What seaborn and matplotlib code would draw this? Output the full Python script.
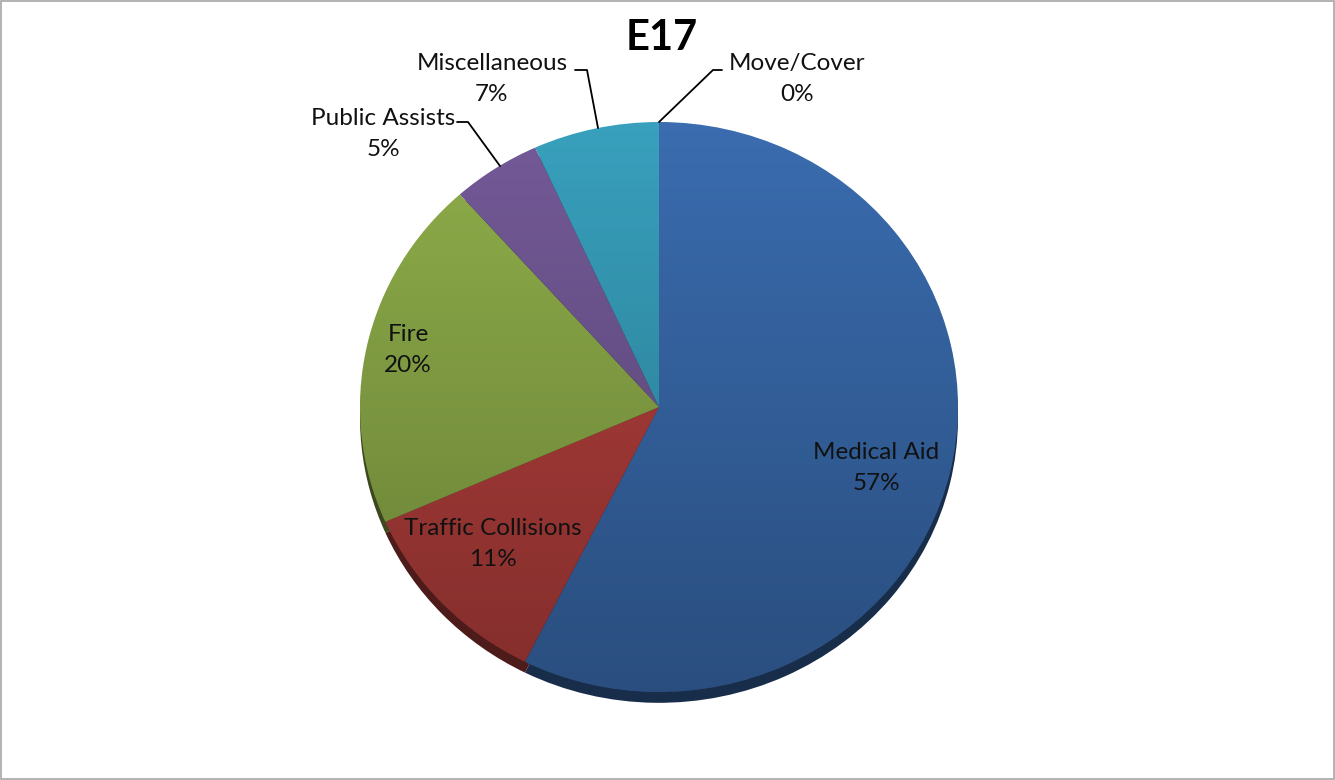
import numpy as np
import matplotlib
matplotlib.use("Agg")
import matplotlib.pyplot as plt
import matplotlib.patches as mpatches
import seaborn as sns

# data (percent of calls)
categories = ["Medical Aid", "Traffic Collisions", "Fire", "Public Assists",
              "Miscellaneous", "Move/Cover"]
shares = [57.4, 11.0, 20.0, 4.8, 6.8, 0.0]
title = "E17"

colors = ["#3a6caf", "#b5403d", "#8fae4a", "#745a98", "#38a0bd", "#e8883a"]

sns.set_theme(style="white")
plt.rcParams['font.family'] = ['Lato', 'DejaVu Sans']

W, H = 1335, 780
CX, CY, RX, RY = 659, 407, 299, 285


def px(x, y):
    """pixel position -> data coords (pie of radius 1 at origin)"""
    return (x - CX) / RX, (CY - y) / RY


fig = plt.figure(figsize=(W / 100, H / 100), dpi=100)
ax = fig.add_axes([0, 0, 1, 1])

# dark bottom edge / shadow
shadow_cols = [tuple(c * 0.42 for c in matplotlib.colors.to_rgb(col)) for col in colors]
ax.pie(shares, colors=shadow_cols, startangle=90, counterclock=False,
       center=(0, -0.038), wedgeprops=dict(linewidth=0))
wedges, _ = ax.pie(shares, colors=colors, startangle=90, counterclock=False,
                   wedgeprops=dict(linewidth=0))

# vertical shading like the Excel gradient fill
grad = np.linspace(0, 1, 256).reshape(-1, 1)
cmap = matplotlib.colors.LinearSegmentedColormap.from_list(
    "shade", [(0, 0, 0, 0.0), (0, 0, 0, 0.28)])
im = ax.imshow(grad, cmap=cmap, extent=(-1, 1, -1, 1), origin="upper",
               aspect="auto", zorder=3)
clip = mpatches.Circle((0, 0), 1, transform=ax.transData)
im.set_clip_path(clip)

ax.set_aspect("auto")
x0, _ = px(0, 0)
x1, _ = px(W, 0)
_, y0 = px(0, H)
_, y1 = px(0, 0)
ax.set_xlim(x0, x1)
ax.set_ylim(y0, y1)
ax.axis("off")

labels = [f"{c}\n{round(s):.0f}%" for c, s in zip(categories, shares)]
fs = 17.5

# labels inside the slices
inside = {0: (876, 468), 1: (493, 544), 2: (408, 350)}
for i, (x, y) in inside.items():
    ax.text(*px(x, y), labels[i], ha="center", va="center", fontsize=fs,
            linespacing=1.55, color="#111111", zorder=5)

# labels outside with leader lines
outside = {
    3: ((383, 134), [(457, 122), (468, 122), (500, 166)]),
    4: ((492, 79), [(575, 70), (587, 70), (598, 128)]),
    5: ((797, 79), [(722, 70), (713, 70), (659, 122)]),
}
for i, ((x, y), pts) in outside.items():
    ax.text(*px(x, y), labels[i], ha="center", va="center", fontsize=fs,
            linespacing=1.55, color="#111111", zorder=5)
    xs, ys = zip(*[px(a, b) for a, b in pts])
    ax.plot(xs, ys, color="black", lw=1.3, zorder=5)

fig.text(662 / W, 1 - 38 / H, title, ha="center", va="center",
         fontsize=30, fontweight="bold", color="black")

fig.patches.append(mpatches.Rectangle((0.0005, 0.001), 0.999, 0.998,
                                      transform=fig.transFigure, fill=False,
                                      edgecolor="#a6a6a6", lw=1.2))

fig.savefig("out.png", dpi=100)
